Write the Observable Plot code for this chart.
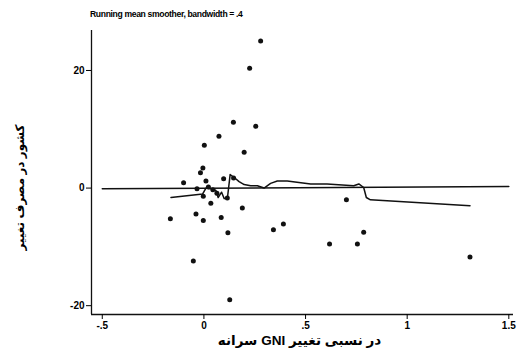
<!DOCTYPE html>
<html>
<head>
<meta charset="utf-8">
<script src="https://cdn.jsdelivr.net/npm/d3@7"></script>
<script src="https://cdn.jsdelivr.net/npm/@observablehq/plot@0.6"></script>
<style>
  html, body { margin: 0; padding: 0; background: #fff; }
  #wrap { position: relative; width: 518px; height: 355px; }
  #title { position: absolute; left: 90px; top: 9px; font-family: "Liberation Sans", Arial, sans-serif; font-weight: bold; font-size: 8.6px; letter-spacing: -0.35px; color: #000; white-space: nowrap; }
</style>
</head>
<body>
<div id="wrap"><div id="title">Running mean smoother, bandwidth = .4</div></div>
<script>
// Scatter data: relative change in GNI per capita (x) vs outcome change (y)
const pointX = [0.279, 0.225, 0.145, 0.255, 0.074, 0.002, 0.198, -0.005, -0.017, -0.100,
  0.010, 0.097, 0.146, 0.022, 0.044, -0.003, 0.115, 0.034, 0.189, -0.039,
  -0.165, -0.003, 0.085, 0.118, -0.052, 0.127, 0.701, 0.391, 0.342, 0.786,
  0.618, 0.755, 1.309, -0.034, 0.064];
const pointY = [25.0, 20.4, 11.2, 10.5, 8.8, 7.3, 6.1, 3.4, 2.6, 0.9,
  1.2, 1.6, 1.7, 0.2, -0.3, -1.4, -1.7, -2.6, -3.4, -4.4,
  -5.2, -5.5, -5.0, -7.6, -12.4, -19.0, -2.0, -6.1, -7.1, -7.5,
  -9.5, -9.5, -11.7, -0.1, -0.9];

// Running mean smoother (bandwidth .4)
const smoothX = [-0.162, -0.006, 0.010, 0.034, 0.059, 0.070, 0.087, 0.100, 0.116, 0.129,
  0.149, 0.173, 0.198, 0.230, 0.263, 0.296, 0.328, 0.361, 0.394, 0.410,
  0.525, 0.606, 0.737, 0.762, 0.786, 0.799, 0.819, 1.309];
const smoothY = [-1.6, -1.0, 0.0, -0.1, -0.4, -1.6, -0.7, -1.8, -1.6, 2.3,
  1.8, 1.1, 0.6, 0.4, 0.4, 0.0, 0.8, 1.2, 1.2, 1.2,
  0.7, 0.7, 0.4, 0.7, 0.1, -1.6, -2.0, -3.0];

// Near-flat reference line
const refX = [-0.5, 1.5];
const refY = [-0.1, 0.25];

const xTicks = [-0.5, 0, 0.5, 1, 1.5];
const xTickLabels = ["-.5", "0", ".5", "1", "1.5"];
const yTicks = [-20, 0, 20];
const yTickLabels = ["-20", "0", "20"];

// Axis titles (words listed left-to-right as they appear in the picture)
const xTitleWords = ["تغییر", "نسبی", "در", "GNI", "سرانه"];
const yTitleWords = ["تغییر", "مصرف", "در", "کشور"];

const xDomain = [-0.553, 1.523];
const yDomain = [-21.5, 26.8];

// the renderer lays Persian text right-to-left, so feed words in reverse to keep the picture's visual order
const visualOrder = (words) => words.slice().reverse().join(" ");

const points = pointX.map((x, i) => ({x, y: pointY[i]}));
const smooth = smoothX.map((x, i) => ({x, y: smoothY[i]}));
const ref = refX.map((x, i) => ({x, y: refY[i]}));

const chart = Plot.plot({
  width: 518,
  height: 355,
  marginLeft: 91,
  marginRight: 5,
  marginTop: 30,
  marginBottom: 41,
  style: {fontFamily: "'Liberation Sans', 'DejaVu Sans', Arial, sans-serif", fontSize: "10px", fontWeight: "bold", color: "#000", background: "#fff"},
  x: {domain: xDomain},
  y: {domain: yDomain},
  marks: [
    Plot.ruleX([xDomain[0]], {stroke: "#111", strokeWidth: 1.3}),
    Plot.ruleY([yDomain[0]], {stroke: "#111", strokeWidth: 1.3}),
    Plot.axisX({ticks: xTicks, tickFormat: (d) => xTickLabels[xTicks.indexOf(d)], tickSize: 5, tickPadding: 2, label: null}),
    Plot.axisY({ticks: yTicks, tickFormat: (d) => yTickLabels[yTicks.indexOf(d)], tickSize: 5, tickPadding: 2, label: null}),
    Plot.text([visualOrder(xTitleWords)], {text: (d) => d, frameAnchor: "bottom", textAnchor: "middle", dx: -3, dy: 30, fontSize: 13.5, fontWeight: "bold", fill: "#000"}),
    Plot.text([visualOrder(yTitleWords)], {text: (d) => d, frameAnchor: "left", textAnchor: "middle", dx: -71, dy: 15, rotate: -90, fontSize: 12, fontWeight: "bold", fill: "#000"}),
    Plot.line(ref, {x: "x", y: "y", stroke: "#111", strokeWidth: 1.5}),
    Plot.line(smooth, {x: "x", y: "y", stroke: "#111", strokeWidth: 1.5}),
    Plot.dot(points, {x: "x", y: "y", r: 2.5, fill: "#111", stroke: "none"})
  ]
});
document.getElementById("wrap").appendChild(chart);
</script>
</body>
</html>
